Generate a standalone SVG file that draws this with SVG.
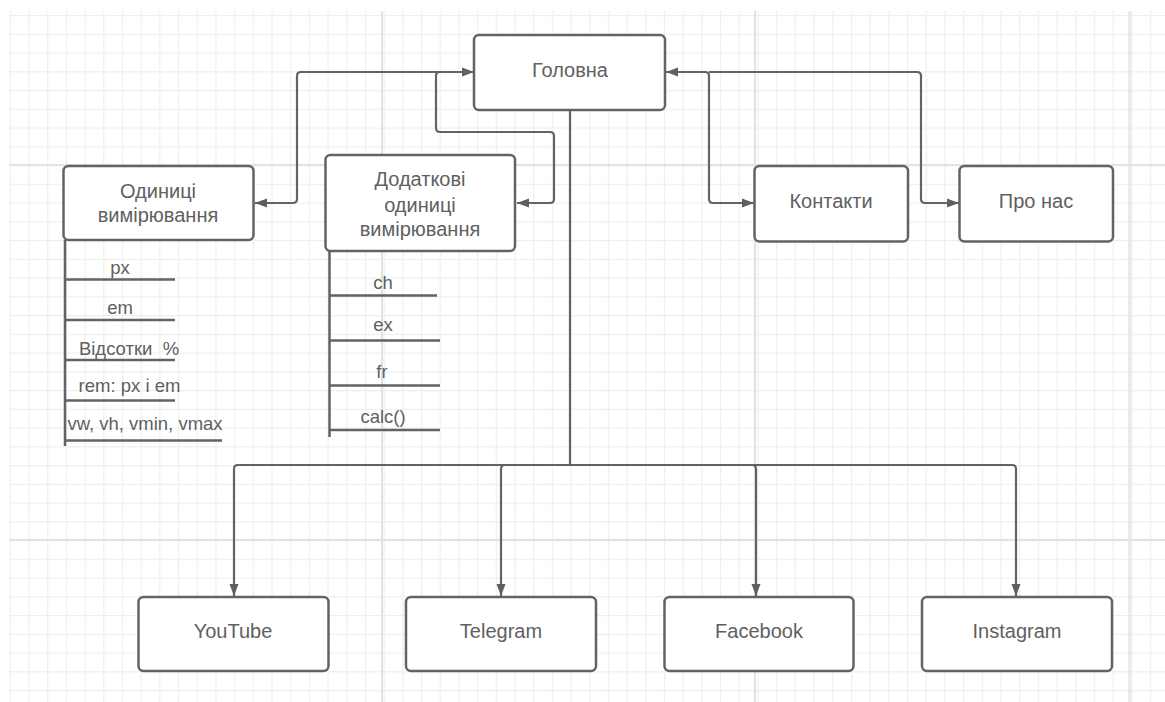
<svg xmlns="http://www.w3.org/2000/svg" width="1165" height="702" viewBox="0 0 1165 702">
<defs>
<pattern id="minor" patternUnits="userSpaceOnUse" x="9.8" y="15" width="18.69" height="18.75">
<path d="M0.5 0 V18.75 M0 0.5 H18.69" fill="none" stroke="#eeeeee" stroke-width="1.4"/>
</pattern>
<marker id="ah" viewBox="0 0 12 10" refX="12" refY="5" markerWidth="12" markerHeight="10" markerUnits="userSpaceOnUse" orient="auto-start-reverse">
<path d="M0 0.5 L12 5 L0 9.5 Z" fill="#5f5f5f"/>
</marker>
<style>
.box{fill:#fff;stroke:#636363;stroke-width:2.5}
.t{font-family:"Liberation Sans",Arial,sans-serif;font-size:20px;fill:#606060;text-anchor:middle;dominant-baseline:central}
.s{font-family:"Liberation Sans",Arial,sans-serif;font-size:18.5px;fill:#606060;text-anchor:middle;dominant-baseline:central;white-space:pre}
.c{fill:none;stroke:#636363;stroke-width:2.2;stroke-linejoin:round}
.l{fill:none;stroke:#636363;stroke-width:2.5}
.maj{stroke:#e2e2e2;stroke-width:2}
</style>
</defs>
<rect width="1165" height="702" fill="#fff"/>
<g id="grid">
<rect x="9" y="11" width="1156" height="691" fill="url(#minor)"/>
<path class="maj" d="M382 11 V702 M755 11 V702 M1129.5 11 V702 M9 165 H1165 M9 540 H1165"/>
</g>
<g id="connectors">
<path class="c" d="M255 203 H293 Q297 203 297 199 V76 Q297 72 301 72 H474" marker-start="url(#ah)" marker-end="url(#ah)"/>
<path class="c" d="M517 203 H550 Q554 203 554 199 V136 Q554 132 550 132 H440 Q436 132 436 128 V76 Q436 72 440 72 H474" marker-start="url(#ah)"/>
<path class="c" d="M666 72 H705 Q709 72 709 76 V199 Q709 203 713 203 H754" marker-start="url(#ah)" marker-end="url(#ah)"/>
<path class="c" d="M709 72 H917 Q921 72 921 76 V199 Q921 203 925 203 H959" marker-end="url(#ah)"/>
<path class="c" d="M570 111 V465"/>
<path class="c" d="M570 465 H238 Q234 465 234 469 V596" marker-end="url(#ah)"/>
<path class="c" d="M570 465 H505 Q501 465 501 469 V596" marker-end="url(#ah)"/>
<path class="c" d="M570 465 H752 Q756 465 756 469 V596" marker-end="url(#ah)"/>
<path class="c" d="M570 465 H1012 Q1016 465 1016 469 V596" marker-end="url(#ah)"/>
</g>
<g id="node-golovna">
<rect class="box" x="474" y="35" width="191" height="75" rx="5"/>
<text class="t" x="570" y="70">Головна</text>
</g>
<g id="node-odynytsi">
<rect class="box" x="63.5" y="166" width="190" height="74" rx="5"/>
<text class="t" x="158" y="191">Одиниці</text>
<text class="t" x="158" y="215">вимірювання</text>
</g>
<g id="list-odynytsi">
<path class="l" d="M65 240 V446 M65 279.5 H175 M65 320 H175 M65 360 H175 M65 400.5 H175 M65 440.5 H222"/>
<text class="s" x="120" y="267">px</text>
<text class="s" x="120" y="307">em</text>
<text class="s" x="129" y="348" xml:space="preserve">Відсотки  %</text>
<text class="s" x="129.5" y="385">rem: px і em</text>
<text class="s" x="145" y="423">vw, vh, vmin, vmax</text>
</g>
<g id="node-dodatkovi">
<rect class="box" x="325.5" y="155" width="189.5" height="96" rx="5"/>
<text class="t" x="420" y="179">Додаткові</text>
<text class="t" x="420" y="205">одиниці</text>
<text class="t" x="420" y="229">вимірювання</text>
</g>
<g id="list-dodatkovi">
<path class="l" d="M329.5 251 V437 M329.5 295.5 H437 M329.5 340.5 H440 M329.5 385.5 H440 M329.5 430 H440"/>
<text class="s" x="383" y="282">ch</text>
<text class="s" x="383" y="324">ex</text>
<text class="s" x="382" y="371">fr</text>
<text class="s" x="383" y="416">calc()</text>
</g>
<g id="node-kontakty">
<rect class="box" x="754.5" y="166" width="153.5" height="75.5" rx="5"/>
<text class="t" x="831" y="201">Контакти</text>
</g>
<g id="node-pro-nas">
<rect class="box" x="959.5" y="166" width="153.5" height="75.5" rx="5"/>
<text class="t" x="1036" y="201">Про нас</text>
</g>
<g id="node-youtube">
<rect class="box" x="138.5" y="597" width="190" height="74" rx="5"/>
<text class="t" x="233" y="631">YouTube</text>
</g>
<g id="node-telegram">
<rect class="box" x="406" y="597" width="190" height="74" rx="5"/>
<text class="t" x="501" y="631">Telegram</text>
</g>
<g id="node-facebook">
<rect class="box" x="664.5" y="597" width="189" height="74" rx="5"/>
<text class="t" x="759" y="631">Facebook</text>
</g>
<g id="node-instagram">
<rect class="box" x="922" y="597" width="190" height="74" rx="5"/>
<text class="t" x="1017" y="631">Instagram</text>
</g>
</svg>
